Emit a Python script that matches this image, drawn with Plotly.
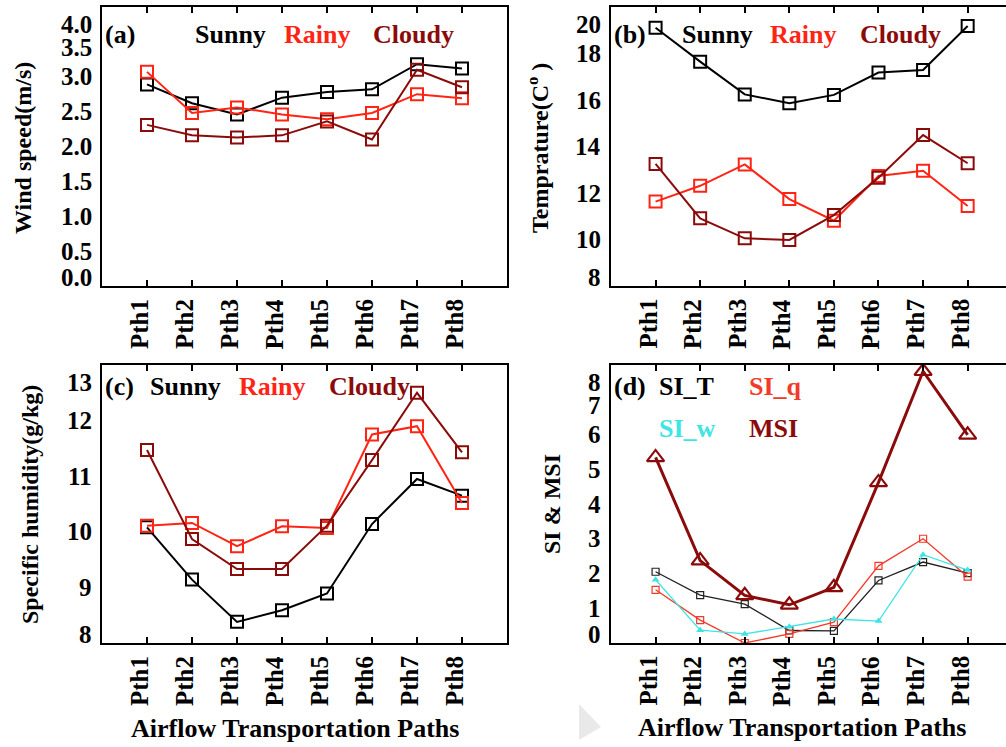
import plotly.graph_objects as go

# ---- data -------------------------------------------------------------
paths = ["Pth1", "Pth2", "Pth3", "Pth4", "Pth5", "Pth6", "Pth7", "Pth8"]
path_pos = [1, 2, 3, 4, 5, 6, 7, 8]

wind_sunny = [2.89, 2.62, 2.46, 2.70, 2.78, 2.82, 3.18, 3.12]
wind_rainy = [3.07, 2.48, 2.56, 2.46, 2.39, 2.48, 2.75, 2.69]
wind_cloudy = [2.31, 2.16, 2.13, 2.16, 2.36, 2.10, 3.10, 2.85]

temp_sunny = [19.11, 17.65, 16.24, 15.86, 16.22, 17.18, 17.29, 19.18]
temp_rainy = [11.63, 12.31, 13.23, 11.74, 10.81, 12.73, 12.96, 11.44]
temp_cloudy = [13.25, 10.91, 10.05, 9.98, 11.05, 12.66, 14.49, 13.28]

hum_sunny = [10.08, 9.14, 8.38, 8.59, 8.89, 10.14, 10.95, 10.65]
hum_rainy = [10.11, 10.16, 9.74, 10.10, 10.07, 11.75, 11.90, 10.52]
hum_cloudy = [11.47, 9.87, 9.33, 9.33, 10.11, 11.29, 12.50, 11.43]

si_t = [2.05, 1.38, 1.12, 0.36, 0.35, 1.80, 2.33, 2.01]
si_q = [1.53, 0.66, 0.00, 0.26, 0.60, 2.22, 3.00, 1.91]
si_w = [1.82, 0.37, 0.26, 0.47, 0.69, 0.63, 2.54, 2.10]
msi = [5.34, 2.37, 1.37, 1.10, 1.60, 4.62, 7.82, 5.99]

wind_ticks = [0.0, 0.5, 1.0, 1.5, 2.0, 2.5, 3.0, 3.5, 4.0]
wind_tick_text = ["0.0", "0.5", "1.0", "1.5", "2.0", "2.5", "3.0", "3.5", "4.0"]
temp_ticks = [8, 10, 12, 14, 16, 18, 20]
hum_ticks = [8, 9, 10, 11, 12, 13]
si_ticks = [0, 1, 2, 3, 4, 5, 6, 7, 8]

# ---- styling ----------------------------------------------------------
W, H = 1006, 747
FONT = "Liberation Serif, Times New Roman, serif"
FS = 25
BLACK = "#000000"
RED = "#ff2414"
DARK = "#8b0b0b"
CYAN = "#3fe4e4"
SIQ_RED = "#f23a2a"


def px(x):
    return x / W


def py(y):
    return 1 - y / H


# panel frames in page pixels: left, right, top, bottom
panels = [
    dict(k="", left=102, right=507, top=7, bottom=286, xr=[0, 9], yr=[0, 4],
         ticks=wind_ticks, ttext=wind_tick_text, mirror=True),
    dict(k="2", left=611, right=1006, top=7, bottom=286, xr=[0, 8.86], yr=[8, 20],
         ticks=temp_ticks, ttext=[str(v) for v in temp_ticks], mirror=False),
    dict(k="3", left=102, right=507, top=365, bottom=643, xr=[0, 9], yr=[8, 13],
         ticks=hum_ticks, ttext=[str(v) for v in hum_ticks], mirror=True),
    dict(k="4", left=611, right=1006, top=365, bottom=643, xr=[0, 8.86], yr=[0, 8],
         ticks=si_ticks, ttext=[str(v) for v in si_ticks], mirror=False),
]

fig = go.Figure()

# faint grey chevron in the lower middle of the page
fig.add_shape(type="path", xref="paper", yref="paper", layer="below",
              path=f"M {px(579)} {py(704)} L {px(601)} {py(727)} L {px(579)} {py(740)} Z",
              fillcolor="#e9e9e9", line=dict(width=0))


def add_line(vals, color, k, symbol="square-open", msize=12, mline=2.0, lw=2.0):
    fig.add_trace(go.Scatter(
        x=path_pos, y=vals, xaxis="x" + k, yaxis="y" + k,
        mode="lines+markers",
        line=dict(color=color, width=lw),
        marker=dict(symbol=symbol, size=msize, color=color,
                    line=dict(color=color, width=mline)),
        showlegend=False, hoverinfo="x+y",
    ))


# (a) wind speed
add_line(wind_sunny, BLACK, "")
add_line(wind_rainy, RED, "")
add_line(wind_cloudy, DARK, "")
# (b) temperature
add_line(temp_sunny, BLACK, "2")
add_line(temp_rainy, RED, "2")
add_line(temp_cloudy, DARK, "2")
# (c) specific humidity
add_line(hum_sunny, BLACK, "3")
add_line(hum_rainy, RED, "3")
add_line(hum_cloudy, DARK, "3")
# (d) stability indices
add_line(si_t, "#222222", "4", msize=7, mline=1.2, lw=1.3)
add_line(si_q, SIQ_RED, "4", msize=7, mline=1.2, lw=1.3)
add_line(si_w, CYAN, "4", symbol="triangle-up", msize=7, mline=0, lw=1.3)
add_line(msi, DARK, "4", symbol="triangle-up-open", msize=15, mline=2.2, lw=3)

tickfont = dict(family=FONT, size=FS, color=BLACK, weight="bold")
layout = dict(
    width=W, height=H,
    margin=dict(l=0, r=0, t=0, b=0),
    paper_bgcolor="white", plot_bgcolor="white",
    showlegend=False,
)

annotations = []
for i, p in enumerate(panels):
    k = p["k"]
    layout["xaxis" + k] = dict(
        domain=[px(p["left"]), px(p["right"])], anchor="y" + k,
        range=p["xr"], showgrid=False, zeroline=False,
        showline=True, linewidth=2, linecolor=BLACK, mirror="ticks",
        ticks="inside", ticklen=6, tickwidth=2, tickcolor=BLACK,
        tickvals=path_pos, showticklabels=False,
    )
    layout["yaxis" + k] = dict(
        domain=[py(p["bottom"]), py(p["top"])], anchor="x" + k,
        range=p["yr"], showgrid=False, zeroline=False,
        showline=True, linewidth=2, linecolor=BLACK, mirror=p["mirror"],
        ticks="", showticklabels=False,
    )
    # tick marks along the right-hand frame
    layout["yaxis" + str(5 + i)] = dict(
        overlaying="y" + k, anchor="x" + k, side="right",
        range=p["yr"], tickvals=p["ticks"], ticks="inside", ticklen=6,
        tickwidth=1.5, tickcolor=BLACK, showticklabels=False,
        showline=False, showgrid=False, zeroline=False,
    )
    # path names, rotated, below the frame
    for v, t in zip(path_pos, paths):
        annotations.append(dict(
            text=t, xref="x" + k, x=v, xanchor="center", xshift=-8,
            yref="paper", y=py(p["bottom"] + 11), yanchor="top",
            textangle=-90, showarrow=False, font=tickfont,
        ))
    # y tick labels, kept inside the vertical extent of the frame
    y0, y1 = p["yr"]
    prev = None
    for v, t in sorted(zip(p["ticks"], p["ttext"]), key=lambda z: -z[0]):
        pix = p["top"] + (y1 - v) / (y1 - y0) * (p["bottom"] - p["top"])
        draw = min(max(pix, p["top"] + 17), p["bottom"] - 9)
        if prev is not None and draw < prev + 23:
            draw = prev + 23
        prev = draw
        annotations.append(dict(
            text=t, xref="paper", x=px(p["left"]), xanchor="right", xshift=-8,
            yref="y" + k, y=v, yanchor="middle", yshift=pix - draw,
            showarrow=False, font=tickfont,
        ))

layout["annotations"] = annotations
fig.update_layout(**layout)


def label(text, x, y, color=BLACK, angle=0, anchor="left", size=FS + 1):
    fig.add_annotation(
        text=text, xref="paper", yref="paper", x=px(x), y=py(y),
        xanchor=anchor, yanchor="middle", textangle=angle, showarrow=False,
        font=dict(family=FONT, size=size, color=color, weight="bold"),
    )


# axis titles
label("Wind speed(m/s)", 23, 148, angle=-90, anchor="center", size=24)
label("Temprature(C<sup>o</sup> )", 538, 148, angle=-90, anchor="center", size=24)
label("Specific humidity(g/kg)", 30, 505, angle=-90, anchor="center", size=24)
label("SI &amp; MSI", 552, 504, angle=-90, anchor="center", size=24)
label("Airflow Transportation Paths", 295, 728, anchor="center")
label("Airflow Transportation Paths", 802, 727, anchor="center")

# in-panel keys
label("(a)", 103, 34)
label("Sunny", 193, 34)
label("Rainy", 282, 34, RED)
label("Cloudy", 371, 34, DARK)

label("(b)", 612, 34)
label("Sunny", 680, 34)
label("Rainy", 768, 34, RED)
label("Cloudy", 858, 34, DARK)

label("(c)", 103, 386)
label("Sunny", 148, 386)
label("Rainy", 237, 386, RED)
label("Cloudy", 327, 386, DARK)

label("(d)", 612, 386)
label("SI_T", 657, 386)
label("SI_q", 747, 386, SIQ_RED)
label("SI_w", 657, 428, CYAN)
label("MSI", 747, 428, DARK)

fig.write_html("out.html")
